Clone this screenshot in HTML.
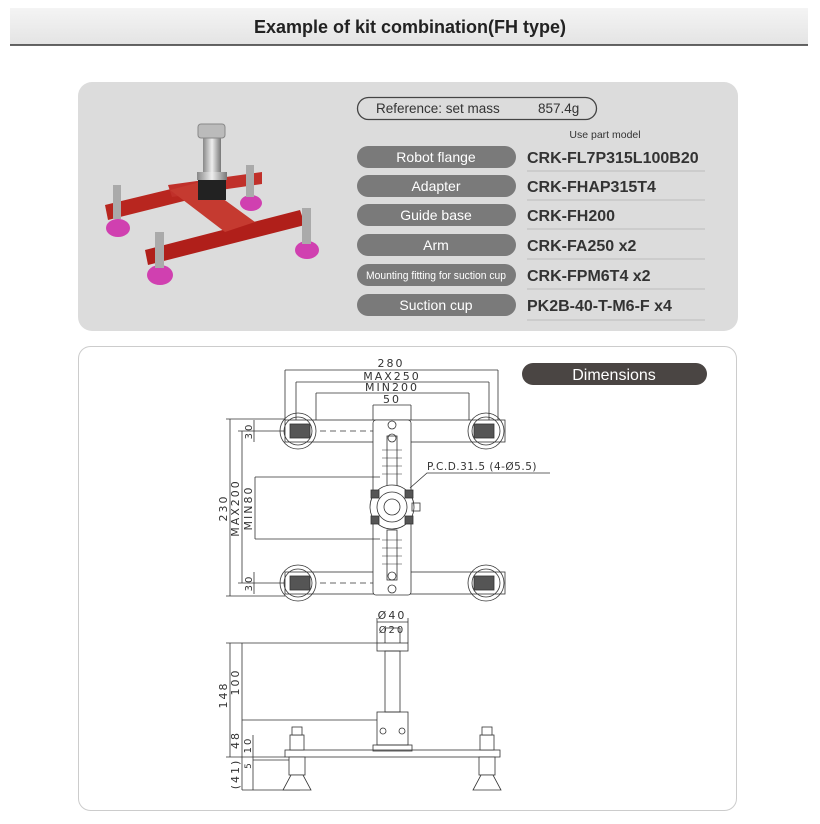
<!DOCTYPE html>
<html><head><meta charset="utf-8"><style>
body{margin:0;background:#fff;width:820px;height:824px;overflow:hidden;font-family:"Liberation Sans",sans-serif}
svg{position:absolute;left:0;top:0}
</style></head><body>
<svg width="820" height="824" viewBox="0 0 820 824" font-family="Liberation Sans, sans-serif">
<defs>
<linearGradient id="hd" x1="0" y1="0" x2="0" y2="1"><stop offset="0" stop-color="#f4f4f4"/><stop offset="1" stop-color="#e4e4e4"/></linearGradient>
<linearGradient id="col" x1="0" y1="0" x2="1" y2="0"><stop offset="0" stop-color="#888"/><stop offset=".5" stop-color="#eee"/><stop offset="1" stop-color="#777"/></linearGradient>
</defs>
<rect x="10" y="8" width="798" height="37" fill="url(#hd)"/>
<line x1="10" y1="45" x2="808" y2="45" stroke="#333" stroke-width="1.5"/>
<text x="410" y="33" text-anchor="middle" font-size="18" font-weight="bold" fill="#222">Example of kit combination(FH type)</text>

<rect x="78" y="82" width="660" height="249" rx="14" fill="#dcdcdc"/>
<!-- photo -->
<g>
<polygon points="105,205 200,182 200,197 108,220" fill="#b8261f"/>
<polygon points="168,185 262,172 262,184 172,197" fill="#c0302a"/>
<polygon points="145,250 300,210 305,225 148,265" fill="#b01f1a"/>
<polygon points="170,190 200,182 255,222 225,232" fill="#c53a30"/>
<rect x="203" y="135" width="18" height="50" fill="url(#col)"/>
<rect x="198" y="124" width="27" height="14" rx="3" fill="#bbb" stroke="#888"/>
<rect x="197" y="172" width="30" height="8" fill="url(#col)"/>
<rect x="198" y="180" width="28" height="20" fill="#222"/>
<ellipse cx="118" cy="228" rx="12" ry="9" fill="#d040b0"/>
<ellipse cx="251" cy="203" rx="11" ry="8" fill="#d040b0"/>
<ellipse cx="160" cy="275" rx="13" ry="10" fill="#d040b0"/>
<ellipse cx="307" cy="250" rx="12" ry="9" fill="#d040b0"/>
<rect x="113" y="185" width="8" height="34" fill="#aaa"/><rect x="246" y="165" width="8" height="32" fill="#aaa"/>
<rect x="155" y="232" width="9" height="36" fill="#aaa"/><rect x="302" y="208" width="9" height="36" fill="#aaa"/>
</g>
<rect x="357.5" y="97.5" width="239" height="22" rx="11" fill="none" stroke="#444" stroke-width="1.3"/>
<text x="376" y="113" font-size="13.5" fill="#333">Reference:  set mass</text>
<text x="538" y="113" font-size="13.5" fill="#333">857.4g</text>
<text x="605" y="138" text-anchor="middle" font-size="10.5" fill="#333">Use part model</text>
<g font-size="14" fill="#fff" text-anchor="middle">
<rect x="357" y="146" width="159" height="22" rx="11" fill="#7a7a7a"/><text x="436" y="162">Robot flange</text>
<rect x="357" y="175" width="159" height="22" rx="11" fill="#7a7a7a"/><text x="436" y="191">Adapter</text>
<rect x="357" y="204" width="159" height="22" rx="11" fill="#7a7a7a"/><text x="436" y="220">Guide base</text>
<rect x="357" y="234" width="159" height="22" rx="11" fill="#7a7a7a"/><text x="436" y="250">Arm</text>
<rect x="357" y="264" width="159" height="22" rx="11" fill="#7a7a7a"/><text x="436" y="279" font-size="11" textLength="140" lengthAdjust="spacingAndGlyphs">Mounting fitting for suction cup</text>
<rect x="357" y="294" width="159" height="22" rx="11" fill="#7a7a7a"/><text x="436" y="310">Suction cup</text>
</g>
<g font-size="16" font-weight="bold" fill="#333">
<text x="527" y="163">CRK-FL7P315L100B20</text>
<text x="527" y="192">CRK-FHAP315T4</text>
<text x="527" y="221">CRK-FH200</text>
<text x="527" y="251">CRK-FA250 x2</text>
<text x="527" y="281">CRK-FPM6T4 x2</text>
<text x="527" y="311">PK2B-40-T-M6-F x4</text>
</g>
<g stroke="#bbb"><line x1="527" y1="171" x2="705" y2="171"/><line x1="527" y1="200" x2="705" y2="200"/><line x1="527" y1="229" x2="705" y2="229"/><line x1="527" y1="259" x2="705" y2="259"/><line x1="527" y1="289" x2="705" y2="289"/><line x1="527" y1="320" x2="705" y2="320"/></g>

<rect x="78.5" y="346.5" width="658" height="464" rx="12" fill="#fff" stroke="#ccc"/>
<rect x="522" y="363" width="185" height="22" rx="11" fill="#4a4543"/>
<text x="614" y="380" text-anchor="middle" font-size="16" fill="#fff">Dimensions</text>

<g stroke="#333" stroke-width="0.8" fill="none">
<line x1="285" y1="370" x2="498" y2="370"/><line x1="296" y1="382" x2="489" y2="382"/><line x1="316" y1="393" x2="469" y2="393"/><line x1="373" y1="405" x2="411" y2="405"/>
<line x1="285" y1="370" x2="285" y2="420"/><line x1="498" y1="370" x2="498" y2="420"/>
<line x1="296" y1="382" x2="296" y2="420"/><line x1="489" y1="382" x2="489" y2="420"/>
<line x1="316" y1="393" x2="316" y2="420"/><line x1="469" y1="393" x2="469" y2="420"/>
<line x1="373" y1="405" x2="373" y2="420"/><line x1="411" y1="405" x2="411" y2="420"/>
<rect x="285" y="420" width="220" height="22"/><rect x="285" y="572" width="220" height="22"/>
<rect x="373" y="420" width="38" height="175" rx="3" fill="#fff"/>
<line x1="320" y1="431" x2="373" y2="431" stroke-dasharray="6,4"/><line x1="320" y1="583" x2="373" y2="583" stroke-dasharray="6,4"/>
<circle cx="298" cy="431" r="18"/><circle cx="298" cy="431" r="14"/><circle cx="486" cy="431" r="18"/><circle cx="486" cy="431" r="14"/>
<circle cx="298" cy="583" r="18"/><circle cx="298" cy="583" r="14"/><circle cx="486" cy="583" r="18"/><circle cx="486" cy="583" r="14"/>
<rect x="290" y="424" width="20" height="14" fill="#555"/><rect x="474" y="424" width="20" height="14" fill="#555"/>
<rect x="290" y="576" width="20" height="14" fill="#555"/><rect x="474" y="576" width="20" height="14" fill="#555"/>
<rect x="387" y="436" width="10" height="50"/><rect x="387" y="530" width="10" height="50"/>
<g stroke-width="0.5"><line x1="382" y1="450" x2="402" y2="450"/><line x1="382" y1="458" x2="402" y2="458"/><line x1="382" y1="466" x2="402" y2="466"/><line x1="382" y1="474" x2="402" y2="474"/>
<line x1="382" y1="540" x2="402" y2="540"/><line x1="382" y1="548" x2="402" y2="548"/><line x1="382" y1="556" x2="402" y2="556"/><line x1="382" y1="564" x2="402" y2="564"/></g>
<circle cx="392" cy="507" r="22" fill="#fff"/><circle cx="392" cy="507" r="15"/><circle cx="392" cy="507" r="8"/>
<circle cx="392" cy="425" r="4"/><circle cx="392" cy="438" r="4"/><circle cx="392" cy="576" r="4"/><circle cx="392" cy="589" r="4"/>
<rect x="371" y="490" width="8" height="8" fill="#555"/><rect x="405" y="490" width="8" height="8" fill="#555"/><rect x="371" y="516" width="8" height="8" fill="#555"/><rect x="405" y="516" width="8" height="8" fill="#555"/>
<rect x="412" y="503" width="8" height="8"/>
<polyline points="410,488 427,473 550,473"/>
<line x1="230" y1="419" x2="230" y2="596"/><line x1="226" y1="419" x2="285" y2="419"/><line x1="226" y1="596" x2="285" y2="596"/>
<line x1="242" y1="431" x2="242" y2="583"/><line x1="238" y1="431" x2="285" y2="431"/><line x1="238" y1="583" x2="285" y2="583"/>
<line x1="255" y1="477" x2="255" y2="539"/><line x1="255" y1="477" x2="380" y2="477"/><line x1="255" y1="539" x2="380" y2="539"/>
<line x1="254" y1="420" x2="254" y2="442"/><line x1="254" y1="572" x2="254" y2="594"/>
<line x1="377" y1="622" x2="408" y2="622"/><line x1="385" y1="628" x2="400" y2="628"/>
<line x1="377" y1="618" x2="377" y2="643"/><line x1="408" y1="618" x2="408" y2="643"/><line x1="385" y1="628" x2="385" y2="643"/><line x1="400" y1="628" x2="400" y2="643"/>
<rect x="377" y="643" width="31" height="8"/><rect x="385" y="651" width="15" height="61"/>
<rect x="377" y="712" width="31" height="33"/><rect x="373" y="745" width="39" height="6"/>
<rect x="285" y="750" width="215" height="7"/>
<circle cx="383" cy="731" r="3"/><circle cx="402" cy="731" r="3"/>
<line x1="230" y1="643" x2="230" y2="757"/><line x1="226" y1="643" x2="377" y2="643"/>
<line x1="242" y1="643" x2="242" y2="720"/><line x1="242" y1="720" x2="377" y2="720"/>
<line x1="226" y1="757" x2="285" y2="757"/><line x1="242" y1="720" x2="242" y2="757"/>
<line x1="253" y1="735" x2="253" y2="757"/><line x1="253" y1="757" x2="253" y2="790"/><line x1="242" y1="790" x2="300" y2="790"/>
<line x1="242" y1="757" x2="242" y2="790"/>
<line x1="253" y1="760" x2="290" y2="760"/>
</g>
<g fill="#444" stroke="#333" stroke-width="0.8">
<rect x="290" y="735" width="14" height="15" fill="#fff"/><rect x="480" y="735" width="14" height="15" fill="#fff"/>
<rect x="289" y="757" width="16" height="18" fill="#fff"/><rect x="479" y="757" width="16" height="18" fill="#fff"/>
<polygon points="283,790 311,790 303,775 291,775" fill="#fff"/><polygon points="473,790 501,790 493,775 481,775" fill="#fff"/>
<rect x="292" y="727" width="10" height="8" fill="#fff"/><rect x="482" y="727" width="10" height="8" fill="#fff"/>
</g>
<g font-size="11" fill="#333" font-family="DejaVu Sans, sans-serif" letter-spacing="2">
<text x="391" y="367" text-anchor="middle">280</text>
<text x="392" y="380" text-anchor="middle">MAX250</text>
<text x="392" y="391" text-anchor="middle">MIN200</text>
<text x="392" y="403" text-anchor="middle">50</text>
<text x="427" y="470" letter-spacing="0.5" font-size="10.5">P.C.D.31.5 (4-Ø5.5)</text>
<text x="392" y="619" text-anchor="middle">Ø40</text>
<text x="392" y="633" text-anchor="middle" font-size="10">Ø20</text>
<text transform="translate(227,508) rotate(-90)" text-anchor="middle">230</text>
<text transform="translate(239,508) rotate(-90)" text-anchor="middle">MAX200</text>
<text transform="translate(252,508) rotate(-90)" text-anchor="middle">MIN80</text>
<text transform="translate(252,431) rotate(-90)" text-anchor="middle" font-size="10">30</text>
<text transform="translate(252,583) rotate(-90)" text-anchor="middle" font-size="10">30</text>
<text transform="translate(227,695) rotate(-90)" text-anchor="middle">148</text>
<text transform="translate(239,682) rotate(-90)" text-anchor="middle">100</text>
<text transform="translate(239,740) rotate(-90)" text-anchor="middle">48</text>
<text transform="translate(251,745) rotate(-90)" text-anchor="middle" font-size="10">10</text>
<text transform="translate(251,765) rotate(-90)" text-anchor="middle" font-size="9">5</text>
<text transform="translate(239,774) rotate(-90)" text-anchor="middle">(41)</text>
</g>
</svg>
</body></html>
